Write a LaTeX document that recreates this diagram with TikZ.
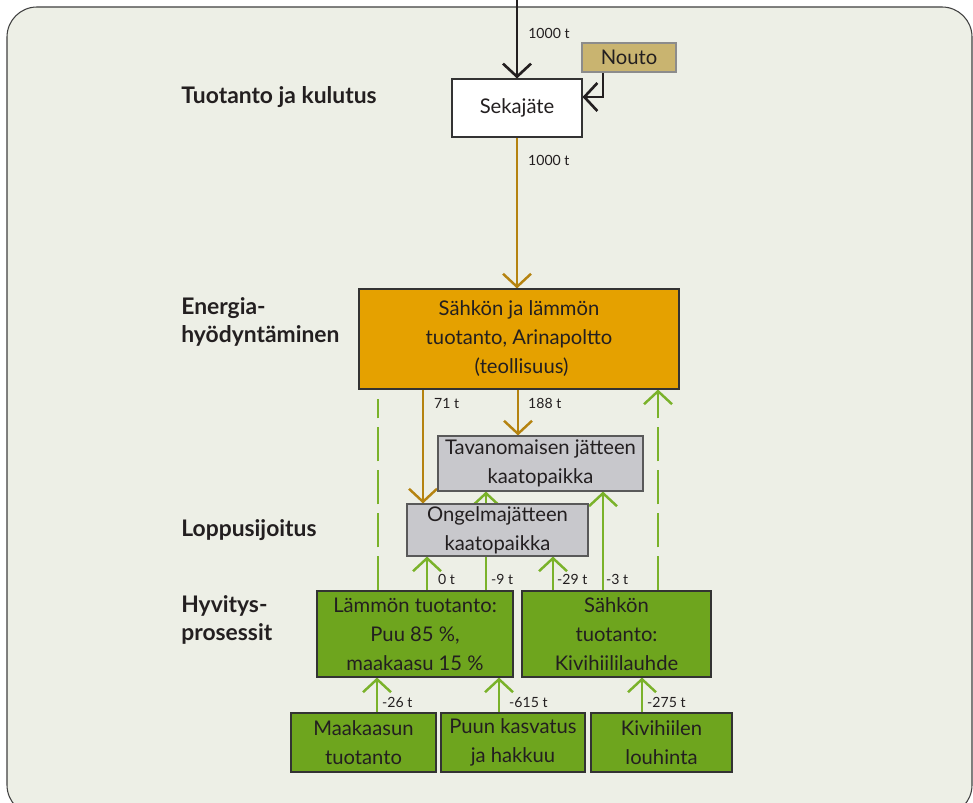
\documentclass[tikz,border=0pt]{standalone}
\usepackage{xcolor}
\usepackage{fontspec}
\setmainfont{Lato}
\usepackage{tikz}
\usetikzlibrary{arrows.meta, positioning}

\definecolor{pohja}{RGB}{237,239,230}
\definecolor{teksti}{RGB}{35,31,32}
\definecolor{oranssi}{RGB}{229,161,0}
\definecolor{ruskea}{RGB}{181,131,16}
\definecolor{vihrea}{RGB}{110,165,30}
\definecolor{viiva}{RGB}{122,178,42}
\definecolor{harmaa}{RGB}{200,200,204}
\definecolor{kulta}{RGB}{201,180,112}

\pgfdeclarelayer{tausta}
\pgfdeclarelayer{viivat}
\pgfsetlayers{tausta,viivat,main}

\begin{document}
\begin{tikzpicture}[
  text=teksti,
  box/.style={draw=black!80, line width=0.6pt, align=center, inner sep=0pt,
    font=\fontsize{11.5}{16.5}\selectfont},
  otsikko/.style={anchor=west, align=left, inner sep=0pt, font=\bfseries\fontsize{13}{15.5}\selectfont},
  lbl/.style={inner sep=0pt, font=\fontsize{8}{9}\selectfont},
  musta/.style={draw=teksti, line width=1.5pt, -{Straight Barb[length=2.6mm, width=5.6mm]}},
  jate/.style={draw=ruskea, line width=1.4pt, -{Straight Barb[length=2.6mm, width=5.6mm]}},
  hyvitys/.style={draw=viiva, line width=1.4pt, -{Straight Barb[length=2.6mm, width=5.6mm]}},
  katko/.style={draw=viiva, line width=1.4pt, dash pattern=on 0.68cm off 0.18cm}
]
% frame
\useasboundingbox (0,0) rectangle (19.46,-16.06);
\begin{pgfonlayer}{tausta}
\fill[white] (0,0) rectangle (19.46,-16.06);
\clip (0,0) rectangle (19.46,-16.06);
\draw[fill=pohja, draw=black!75, line width=0.6pt, rounded corners=0.6cm] (0.14,-0.14) rectangle (19.44,-16.30);
\end{pgfonlayer}

% levels
\node[otsikko] at (3.62,-1.94) {Tuotanto ja kulutus};
\node[otsikko] at (3.62,-6.44) {Energia-\\hyödyntäminen};
\node[otsikko] at (3.62,-10.60) {Loppusijoitus};
\node[otsikko] at (3.62,-12.40) {Hyvitys-\\prosessit};

% boxes
\node[box, fill=white, minimum width=2.6cm, minimum height=1.16cm] (sekajate) at (10.34,-2.16) {Sekajäte};
\node[box, fill=kulta, draw=black!45, minimum width=1.88cm, minimum height=0.58cm] (nouto) at (12.58,-1.15) {Nouto};
\node[box, fill=oranssi, minimum width=6.4cm, minimum height=2.0cm] (energia) at (10.38,-6.78) {Sähkön ja lämmön\\tuotanto, Arinapoltto\\\ (teollisuus)};
\node[box, fill=harmaa, draw=black!65, minimum width=4.1cm, minimum height=1.1cm] (tavan) at (10.81,-9.27) {Tavanomaisen jätteen\\kaatopaikka};
\node[box, fill=harmaa, draw=black!65, minimum width=3.62cm, minimum height=1.04cm] (ongelma) at (9.95,-10.60) {Ongelmajätteen\\kaatopaikka};
\node[box, fill=vihrea, minimum width=3.92cm, minimum height=1.72cm] (lammon) at (8.30,-12.68) {Lämmön tuotanto:\\Puu 85 \%,\\maakaasu 15 \%};
\node[box, fill=vihrea, minimum width=3.78cm, minimum height=1.72cm] (sahkon) at (12.33,-12.68) {Sähkön\\tuotanto:\\Kivihiililauhde};
\node[box, fill=vihrea, minimum width=2.9cm, minimum height=1.18cm] (maakaasu) at (7.27,-14.85) {Maakaasun\\tuotanto};
\node[box, fill=vihrea, minimum width=2.88cm, minimum height=1.18cm] (puun) at (10.26,-14.85) {Puun kasvatus\\ja hakkuu};
\node[box, fill=vihrea, minimum width=2.82cm, minimum height=1.18cm] (kivihiili) at (13.23,-14.85) {Kivihiilen\\louhinta};

\begin{pgfonlayer}{viivat}
% waste flows
\coordinate (syote) at (10.34,0.05);
\draw[musta] (syote) -- node[lbl, pos=.44, anchor=west, xshift=0.2cm] {1000 t} (sekajate.north);
\draw[musta] ([xshift=-0.52cm]nouto.south) |- ([yshift=0.22cm]sekajate.east);
\draw[jate] (sekajate.south) -- node[lbl, pos=.15, anchor=west, xshift=0.2cm] {1000 t} (sekajate.south |- energia.north);
\draw[jate] ([xshift=-1.92cm]energia.south) coordinate (e71) -- node[lbl, pos=.12, anchor=west, xshift=0.2cm] {71 t} (e71 |- ongelma.north);
\draw[jate] ([xshift=-0.02cm]energia.south) coordinate (e188) -- node[lbl, pos=.3, anchor=west, xshift=0.18cm] {188 t} (e188 |- tavan.north);

% avoided emissions
\draw[hyvitys] ([xshift=0.24cm]lammon.north) coordinate (h0) -- node[lbl, pos=.31, anchor=west, xshift=0.2cm] {0 t} (h0 |- ongelma.south);
\draw[hyvitys] ([xshift=1.42cm]lammon.north) coordinate (h9) -- node[lbl, pos=.11, anchor=west, xshift=0.08cm] {-9 t} (h9 |- tavan.south);
\draw[hyvitys] ([xshift=-1.27cm]sahkon.north) coordinate (h29) -- node[lbl, pos=.31, anchor=west, xshift=0.06cm] {-29 t} (h29 |- ongelma.south);
\draw[hyvitys] ([xshift=-0.27cm]sahkon.north) coordinate (h3) -- node[lbl, pos=.11, anchor=west, xshift=0.04cm] {-3 t} (h3 |- tavan.south);
\draw[katko, shorten >=0.18cm] ([xshift=-0.74cm]lammon.north) coordinate (k1) -- (k1 |- energia.south);
\draw[katko, -{Straight Barb[length=2.6mm, width=5.6mm]}] ([xshift=0.83cm]sahkon.north) coordinate (k2) -- (k2 |- energia.south);
\draw[hyvitys] ([xshift=0.27cm]maakaasu.north) coordinate (m26) -- node[lbl, pos=.28, anchor=west, xshift=0.08cm] {-26 t} (m26 |- lammon.south);
\draw[hyvitys] ([xshift=-0.28cm]puun.north) coordinate (p615) -- node[lbl, pos=.28, anchor=west, xshift=0.18cm] {-615 t} (p615 |- lammon.south);
\draw[hyvitys] ([xshift=-0.39cm]kivihiili.north) coordinate (k275) -- node[lbl, pos=.28, anchor=west, xshift=0.08cm] {-275 t} (k275 |- sahkon.south);
\end{pgfonlayer}
\end{tikzpicture}
\end{document}
